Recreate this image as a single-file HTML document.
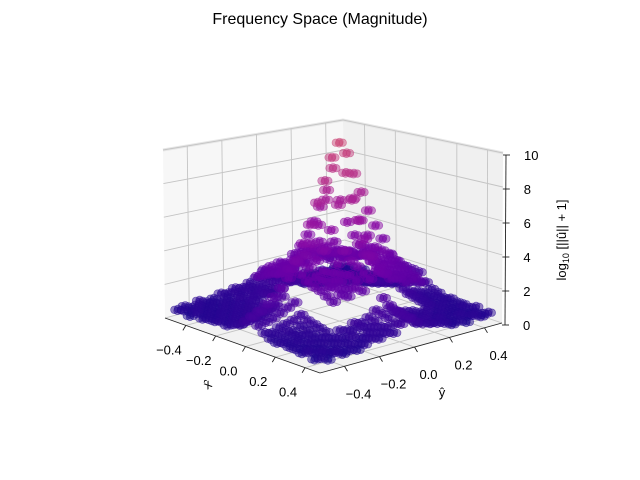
<!DOCTYPE html>
<html><head><meta charset="utf-8"><style>
html,body{margin:0;padding:0;background:#fff;}
svg{display:block;font-family:"Liberation Sans",sans-serif;}
</style></head><body>
<svg id="chart" width="640" height="480" viewBox="0 0 640 480" xmlns="http://www.w3.org/2000/svg">
<rect width="640" height="480" fill="#fff"/>
<text x="320" y="24" text-anchor="middle" font-size="16" fill="#000">Frequency Space (Magnitude)</text>
<g id="panes"></g>
<g id="grid"></g>
<g id="axes"></g>
<g id="points"></g>
<g id="ticks" font-size="13" fill="#000"></g>
<text x="0" y="0" transform="translate(210,388) rotate(-35)" text-anchor="middle" font-size="13">x̂</text>
<text x="442" y="397" text-anchor="middle" font-size="13">ŷ</text>
<text x="0" y="0" transform="translate(566,240) rotate(-90)" text-anchor="middle" font-size="13">log<tspan font-size="9" dy="3">10</tspan><tspan dy="-3"> [||û|| + 1]</tspan></text>
</svg>
<script>
const xTicks=[-0.4,-0.2,0.0,0.2,0.4];
const yTicks=[-0.4,-0.2,0.0,0.2,0.4];
const zTicks=[0,2,4,6,8,10];
const xTickLabels=["−0.4","−0.2","0.0","0.2","0.4"];
const yTickLabels=["−0.4","−0.2","0.0","0.2","0.4"];
const zTickLabels=["0","2","4","6","8","10"];
const freqX=[-0.5,-0.458,-0.417,-0.375,-0.333,-0.292,-0.25,-0.208,-0.167,-0.125,-0.083,-0.042,0,0.042,0.083,0.125,0.167,0.208,0.25,0.292,0.333,0.375,0.417,0.458];
const freqY=freqX.slice();
const magnitude=[
[0.5,0.6,0.4,0.7,0.5,0.6,0.8,0.7,0.9,0.8,1.0,1.2,1.5,1.1,0.9,0.8,0.7,0.6,0.7,0.5,0.6,0.4,0.6,0.5],
[0.6,0.4,0.7,0.5,0.6,0.5,0.7,0.9,0.8,1.0,0.9,1.3,1.6,1.2,1.0,0.9,0.8,0.7,0.5,0.6,0.4,0.7,0.5,0.6],
[0.4,0.7,0.5,0.6,0.4,0.7,0.6,0.8,1.0,0.9,1.1,1.2,1.7,1.3,0.9,1.0,0.7,0.8,0.6,0.4,0.7,0.5,0.6,0.4],
[0.7,0.5,0.6,0.4,0.7,0.6,0.9,0.7,0.9,1.1,1.0,1.4,1.8,1.2,1.1,0.8,0.9,0.6,0.7,0.6,0.5,0.6,0.4,0.7],
[0.5,0.6,0.5,0.7,0.6,0.8,0.7,1.0,1.1,1.0,1.2,1.5,2.0,1.4,1.1,1.0,0.8,0.9,0.6,0.7,0.6,0.5,0.7,0.5],
[0.6,0.5,0.7,0.6,0.8,0.7,1.0,0.9,1.2,1.1,1.3,1.6,2.3,1.5,1.2,1.1,1.0,0.8,0.9,0.6,0.7,0.6,0.5,0.6],
[0.6,0.7,0.6,0.8,0.7,0.9,2.6,2.9,2.7,3.1,2.8,3.4,3.8,3.3,2.9,3.0,2.7,2.8,2.5,0.9,0.7,0.6,0.7,0.6],
[0.7,0.6,0.8,0.7,0.9,1.0,2.8,3.2,3.0,2.9,3.3,3.6,4.6,3.5,3.1,2.8,3.2,2.9,2.7,1.0,0.8,0.7,0.6,0.7],
[0.6,0.8,0.7,0.9,0.8,1.1,3.0,2.9,3.4,3.2,3.5,3.9,5.5,3.8,3.4,3.3,2.9,3.1,2.8,1.1,0.9,0.8,0.7,0.6],
[0.8,0.7,0.9,0.8,1.0,1.2,3.1,3.4,3.2,3.6,3.4,4.1,6.5,4.0,3.6,3.2,3.4,3.0,3.0,1.2,1.0,0.9,0.8,0.7],
[0.9,1.0,1.1,1.0,1.2,1.4,3.3,3.2,3.7,3.5,3.9,4.6,7.6,4.4,3.8,3.6,3.3,3.4,3.1,1.4,1.2,1.0,0.9,0.8],
[1.2,1.3,1.5,1.6,1.8,2.1,3.6,3.9,4.2,4.8,5.8,7.2,9.0,7.0,5.6,4.7,4.0,3.7,3.4,2.0,1.7,1.5,1.3,1.2],
[1.6,1.8,2.1,2.4,2.8,3.3,4.2,5.1,6.1,7.3,8.5,9.8,10.6,9.9,8.6,7.4,6.2,5.2,4.3,3.2,2.7,2.3,2.0,1.7],
[1.2,1.3,1.4,1.6,1.8,2.0,3.5,3.8,4.1,4.6,5.7,7.1,8.9,7.3,5.9,4.9,4.1,3.8,3.5,2.1,1.8,1.5,1.3,1.2],
[0.9,0.8,1.0,1.1,1.2,1.4,3.2,3.4,3.6,3.4,3.8,4.5,7.4,4.7,3.9,3.7,3.5,3.3,3.2,1.4,1.1,1.0,0.8,0.9],
[0.7,0.8,0.9,0.8,1.0,1.2,3.0,3.3,3.1,3.5,3.3,4.0,6.3,4.2,3.7,3.4,3.3,3.1,3.0,1.2,1.0,0.8,0.7,0.8],
[0.6,0.7,0.8,0.7,0.9,1.1,2.9,3.0,3.3,3.1,3.4,3.8,5.3,3.9,3.5,3.2,3.1,3.0,2.8,1.1,0.9,0.7,0.8,0.6],
[0.7,0.6,0.7,0.8,0.8,1.0,2.7,3.1,2.9,2.8,3.2,3.5,4.4,3.6,3.2,3.0,2.9,2.8,2.6,1.0,0.8,0.6,0.7,0.7],
[0.6,0.7,0.6,0.7,0.7,0.9,2.5,2.8,2.6,3.0,2.7,3.3,3.6,3.4,3.0,2.9,2.6,2.7,2.4,0.9,0.7,0.7,0.6,0.6],
[0.6,0.5,0.7,0.6,0.8,0.7,1.0,0.9,1.2,1.1,1.3,1.6,2.2,1.5,1.2,1.1,1.0,0.8,0.9,0.6,0.7,0.6,0.5,0.6],
[0.5,0.6,0.5,0.7,0.6,0.8,0.7,1.0,1.1,1.0,1.2,1.5,1.9,1.4,1.1,1.0,0.8,0.9,0.6,0.7,0.6,0.5,0.7,0.5],
[0.7,0.5,0.6,0.4,0.7,0.6,0.9,0.7,0.9,1.1,1.0,1.4,1.7,1.2,1.1,0.8,0.9,0.6,0.7,0.6,0.5,0.6,0.4,0.7],
[0.4,0.7,0.5,0.6,0.4,0.7,0.6,0.8,1.0,0.9,1.1,1.2,1.6,1.3,0.9,1.0,0.7,0.8,0.6,0.4,0.7,0.5,0.6,0.4],
[0.6,0.4,0.7,0.5,0.6,0.5,0.7,0.9,0.8,1.0,0.9,1.3,1.5,1.2,1.0,0.9,0.8,0.7,0.5,0.6,0.4,0.7,0.5,0.6]
];

const NS="http://www.w3.org/2000/svg";
const XL=[-0.54,0.5], YL=[-0.54,0.5], ZL=[0,10];
const FL={L:[165,318],F:[320,373],R:[502,323],B:[345,270]};
const TP={L:[163,150],F:[322,188],R:[503,153],B:[343,120]};
function bil(c,u,v){
  const x=(1-u)*(1-v)*c.L[0]+u*(1-v)*c.F[0]+u*v*c.R[0]+(1-u)*v*c.B[0];
  const y=(1-u)*(1-v)*c.L[1]+u*(1-v)*c.F[1]+u*v*c.R[1]+(1-u)*v*c.B[1];
  return [x,y];
}
function proj(x,y,z){
  const u=(x-XL[0])/(XL[1]-XL[0]), v=(y-YL[0])/(YL[1]-YL[0]), w=(z-ZL[0])/(ZL[1]-ZL[0]);
  const a=bil(FL,u,v), b=bil(TP,u,v);
  return [a[0]+(b[0]-a[0])*w, a[1]+(b[1]-a[1])*w];
}
function mk(tag,attrs,parent){const e=document.createElementNS(NS,tag);for(const k in attrs)e.setAttribute(k,attrs[k]);parent.appendChild(e);return e;}
function poly(pts){return pts.map(p=>p[0].toFixed(1)+","+p[1].toFixed(1)).join(" ");}
const panes=document.getElementById('panes'),grid=document.getElementById('grid'),axes=document.getElementById('axes'),pts=document.getElementById('points'),ticks=document.getElementById('ticks');

let e;
e=mk('polygon',{points:poly([proj(XL[0],YL[0],0),proj(XL[1],YL[0],0),proj(XL[1],YL[1],0),proj(XL[0],YL[1],0)]),fill:'#f2f2f2'},panes);

e=mk('polygon',{points:poly([proj(XL[0],YL[0],0),proj(XL[0],YL[1],0),proj(XL[0],YL[1],10),proj(XL[0],YL[0],10)]),fill:'#f7f7f7'},panes);

e=mk('polygon',{points:poly([proj(XL[0],YL[1],0),proj(XL[1],YL[1],0),proj(XL[1],YL[1],10),proj(XL[0],YL[1],10)]),fill:'#f0f0f0'},panes);

e=mk('polyline',{points:poly([proj(XL[0],YL[0],10),proj(XL[0],YL[1],10),proj(XL[1],YL[1],10)]),fill:'none',stroke:'#e6e6e6','stroke-width':3},panes);


function gl(a,b,name){const l=mk('line',{x1:a[0],y1:a[1],x2:b[0],y2:b[1],stroke:'#c4c4c4','stroke-width':0.9},grid);}
xTicks.forEach(t=>{gl(proj(t,YL[0],0),proj(t,YL[1],0),'floor-grid-x');gl(proj(t,YL[1],0),proj(t,YL[1],10),'back-grid-x');});
yTicks.forEach(t=>{gl(proj(XL[0],t,0),proj(XL[1],t,0),'floor-grid-y');gl(proj(XL[0],t,0),proj(XL[0],t,10),'back-grid-y');});
zTicks.forEach(t=>{gl(proj(XL[0],YL[0],t),proj(XL[0],YL[1],t),'left-grid-z');gl(proj(XL[0],YL[1],t),proj(XL[1],YL[1],t),'right-grid-z');});

function al(a,b,name){const l=mk('line',{x1:a[0],y1:a[1],x2:b[0],y2:b[1],stroke:'#222','stroke-width':0.9},axes);}
al(proj(XL[0],YL[0],0),proj(XL[1],YL[0],0),'x-axis-line');
al(proj(XL[1],YL[0],0),proj(XL[1],YL[1],0),'y-axis-line');
const zo=[3,2];
{const a=proj(XL[1],YL[1],0),b=proj(XL[1],YL[1],10);al([a[0]+zo[0],a[1]+zo[1]],[b[0]+zo[0],b[1]+zo[1]],'z-axis-line');}

xTicks.forEach((t,i)=>{const p=proj(t,YL[0],0);al(p,[p[0]-3,p[1]+5],'x-tick-mark');
  const tx=mk('text',{x:(p[0]-17).toFixed(1),y:(p[1]+29).toFixed(1),'text-anchor':'middle'},ticks);tx.textContent=xTickLabels[i];
  });
yTicks.forEach((t,i)=>{const p=proj(XL[1],t,0);al(p,[p[0]+3,p[1]+5],'y-tick-mark');
  const tx=mk('text',{x:(p[0]+14).toFixed(1),y:(p[1]+32).toFixed(1),'text-anchor':'middle'},ticks);tx.textContent=yTickLabels[i];
  });
zTicks.forEach((t,i)=>{const p=proj(XL[1],YL[1],t);const q=[p[0]+zo[0],p[1]+zo[1]];al([q[0]-3,q[1]],[q[0]+4,q[1]],'z-tick-mark');
  const tx=mk('text',{x:(q[0]+18).toFixed(1),y:(q[1]+5).toFixed(1),'text-anchor':'start'},ticks);tx.textContent=zTickLabels[i];
  });

const plasma=[[13,8,135],[65,4,157],[106,0,168],[143,13,164],[177,42,144],[204,71,120],[225,100,98],[242,132,75],[252,166,54],[252,206,37],[240,249,33]];
function cmap(t){t=Math.max(0,Math.min(1,t));const s=t*10,i=Math.min(9,Math.floor(s)),f=s-i;const a=plasma[i],b=plasma[i+1];
  return 'rgb('+[0,1,2].map(k=>Math.round(a[k]+(b[k]-a[k])*f)).join(',')+')';}
const step=freqX[1]-freqX[0];
const subs=[[-0.25,-0.25],[-0.25,0.25],[0.25,-0.25],[0.25,0.25]];
const list=[];
freqX.forEach((x,i)=>freqY.forEach((y,j)=>{subs.forEach(s=>list.push({x:x+s[0]*step,y:y+s[1]*step,z:magnitude[i][j]}));}));
list.sort((a,b)=>(a.x-a.y)-(b.x-b.y));
list.forEach(d=>{const p=proj(d.x,d.y,d.z);const c=cmap(0.5*Math.pow(d.z/10.6,0.8));
  const ci=mk('circle',{cx:p[0].toFixed(1),cy:p[1].toFixed(1),r:3.8,fill:c,stroke:c,'stroke-width':0.6,'fill-opacity':0.5,'stroke-opacity':0.6},pts);
  
  });
</script>
</body></html>
